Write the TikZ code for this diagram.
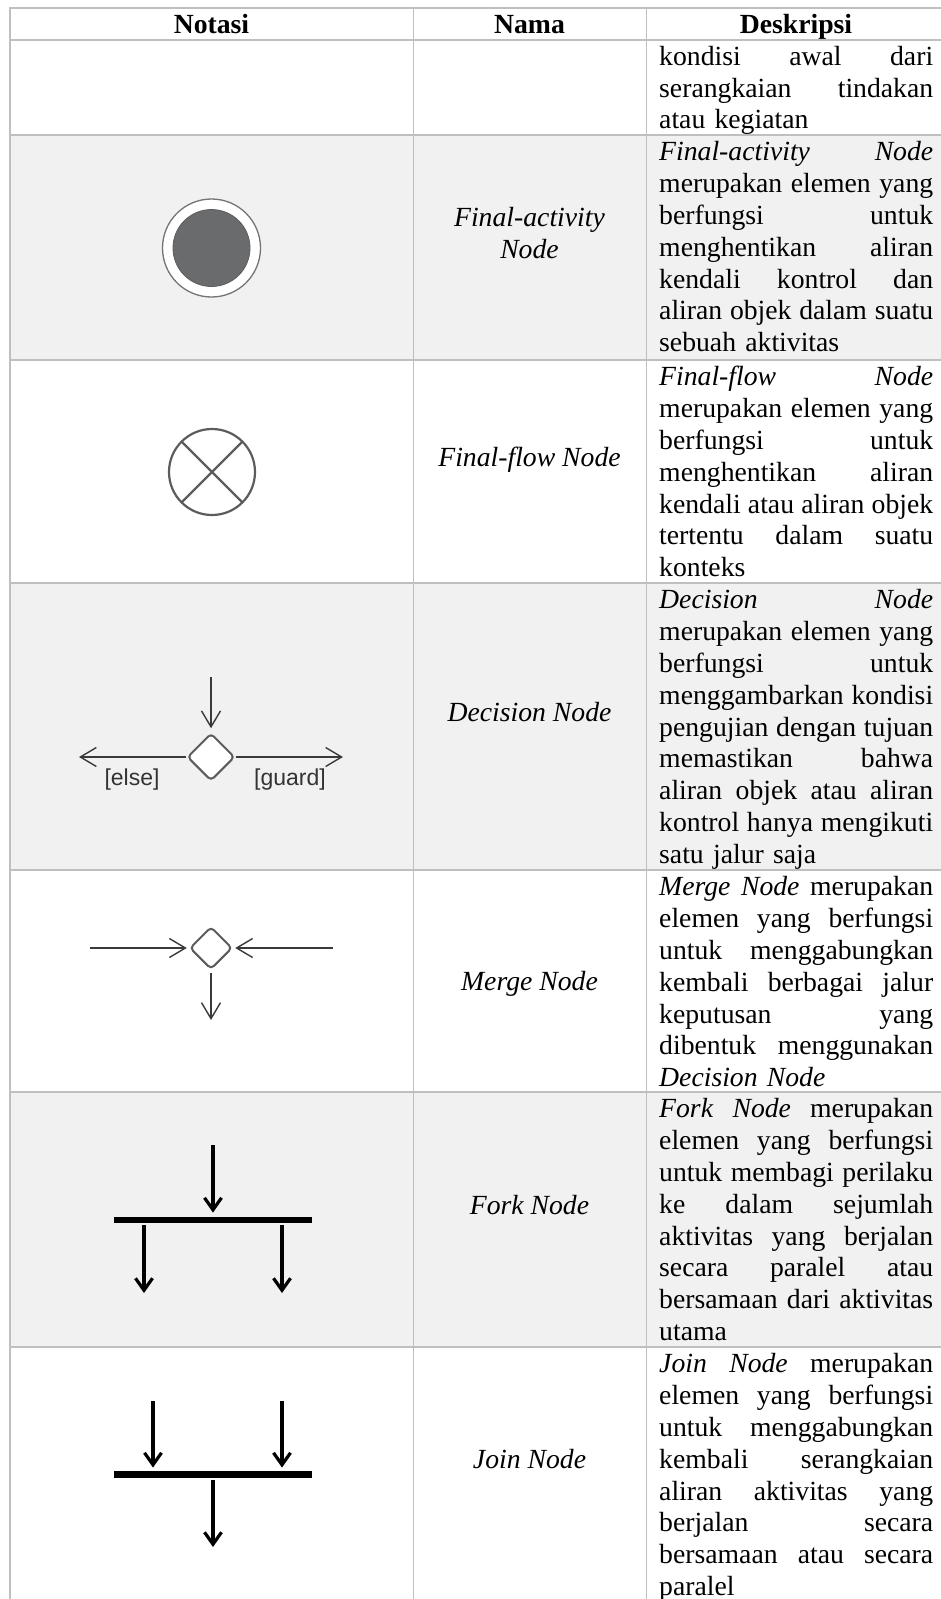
\documentclass[tikz,border=0pt]{standalone}
\usepackage{fontspec}
\setmainfont{Liberation Serif}
\newfontfamily\labelsans{Liberation Sans}
\usetikzlibrary{shapes.geometric,arrows.meta}

\definecolor{gridline}{HTML}{BFBFBF}
\definecolor{rowshade}{HTML}{F1F1F1}
\definecolor{flowline}{HTML}{3A3A3A}
\definecolor{shapeedge}{HTML}{5C5C5C}
\definecolor{corefill}{HTML}{6A6B6D}
\definecolor{labelgray}{HTML}{333333}

% strut giving every first line the same top-to-baseline distance
\newcommand{\ts}{\rule{0pt}{25.5pt}}
% width of the description column text
\newlength{\desccol}
\setlength{\desccol}{274pt}
% a justified line of the description column
\newcommand{\jl}[1]{\leavevmode\hbox to \desccol{\spaceskip=0.25em plus 1fil minus 0.06em\relax #1}}

\tikzset{
  body/.style={font=\fontsize{27.7}{31.85}\selectfont},
  hrule/.style={draw=gridline, line width=2pt},
  vrule/.style={draw=gridline, line width=1pt},
  headcell/.style={font=\fontsize{27.7}{31.85}\selectfont\bfseries, anchor=north, inner sep=0pt},
  desccell/.style={body, anchor=north west, text width=\desccol, align=left, inner sep=0pt},
  namecell/.style={body, anchor=north, align=center, inner sep=0pt},
  guardlabel/.style={font=\labelsans\fontsize{23}{27}\selectfont, text=labelgray, anchor=base, inner sep=0pt},
  branch/.style={diamond, draw=shapeedge, line width=2pt, fill=white, rounded corners=4pt, inner sep=0pt},
  thinflow/.style={draw=flowline, line width=1.4pt, -{Straight Barb[length=16pt, width=19pt]}},
  thickflow/.style={draw=black, line width=3.2pt, -{Straight Barb[length=12pt, width=17pt]}},
  syncbar/.style={rectangle, fill=black, draw=none, minimum width=198pt, minimum height=6.5pt, inner sep=0pt},
}

\begin{document}
\begin{tikzpicture}[x=1pt, y=-1pt]
\useasboundingbox (0,0) rectangle (941,1599);
\fill[white] (0,0) rectangle (941,1599);

% alternating row shading
\fill[rowshade] (10,135) rectangle (946,360);
\fill[rowshade] (10,583) rectangle (946,870);
\fill[rowshade] (10,1092) rectangle (946,1347);

% table grid
\foreach \yy in {7.6,39.5,135,360,583,870,1092,1347}
  \draw[hrule] (9,\yy) -- (946,\yy);
\draw[draw=gridline, line width=2pt] (10,6.6) -- (10,1605);
\draw[vrule] (413,7.6) -- (413,1605);
\draw[vrule] (646,7.6) -- (646,1605);

% header
\node[headcell] (hNotasi) at (211.5,7.6) {\ts Notasi};
\node[headcell] (hNama) at (529.5,7.6) {\ts Nama};
\node[headcell] (hDesk) at (796,7.6) {\ts Deskripsi};

% ---- descriptions ----
\node[desccell] (dInitial) at (659,39.5) {\jl{\ts kondisi awal dari}\\
\jl{serangkaian tindakan}\\
atau kegiatan};

\node[desccell] (dFinalAct) at (659,135) {\jl{\ts\textit{Final-activity} \textit{Node}}\\
\jl{merupakan elemen yang}\\
\jl{berfungsi untuk}\\
\jl{menghentikan aliran}\\
\jl{kendali kontrol dan}\\
\jl{aliran objek dalam suatu}\\
sebuah aktivitas};

\node[desccell] (dFinalFlow) at (659,360) {\jl{\ts\textit{Final-flow} \textit{Node}}\\
\jl{merupakan elemen yang}\\
\jl{berfungsi untuk}\\
\jl{menghentikan aliran}\\
\jl{kendali atau aliran objek}\\
\jl{tertentu dalam suatu}\\
konteks};

\node[desccell] (dDecision) at (659,583) {\jl{\ts\textit{Decision} \textit{Node}}\\
\jl{merupakan elemen yang}\\
\jl{berfungsi untuk}\\
\jl{menggambarkan kondisi}\\
\jl{pengujian dengan tujuan}\\
\jl{memastikan bahwa}\\
\jl{aliran objek atau aliran}\\
\jl{kontrol hanya mengikuti}\\
satu jalur saja};

\node[desccell] (dMerge) at (659,870) {\jl{\ts\textit{Merge} \textit{Node} merupakan}\\
\jl{elemen yang berfungsi}\\
\jl{untuk menggabungkan}\\
\jl{kembali berbagai jalur}\\
\jl{keputusan yang}\\
\jl{dibentuk menggunakan}\\
\textit{Decision Node}};

\node[desccell] (dFork) at (659,1092) {\jl{\ts\textit{Fork} \textit{Node} merupakan}\\
\jl{elemen yang berfungsi}\\
\jl{untuk membagi perilaku}\\
\jl{ke dalam sejumlah}\\
\jl{aktivitas yang berjalan}\\
\jl{secara paralel atau}\\
\jl{bersamaan dari aktivitas}\\
utama};

\node[desccell] (dJoin) at (659,1347) {\jl{\ts\textit{Join} \textit{Node} merupakan}\\
\jl{elemen yang berfungsi}\\
\jl{untuk menggabungkan}\\
\jl{kembali serangkaian}\\
\jl{aliran aktivitas yang}\\
\jl{berjalan secara}\\
\jl{bersamaan atau secara}\\
paralel};

% ---- names ----
\node[namecell] (nFinalAct) at (529.5,200.6) {\ts\textit{Final-activity}\\\textit{Node}};
\node[namecell] (nFinalFlow) at (529.5,440.6) {\ts\textit{Final-flow Node}};
\node[namecell] (nDecision) at (529.5,695.6) {\ts\textit{Decision Node}};
\node[namecell] (nMerge) at (529.5,965.1) {\ts\textit{Merge Node}};
\node[namecell] (nFork) at (529.5,1188.6) {\ts\textit{Fork Node}};
\node[namecell] (nJoin) at (529.5,1443.1) {\ts\textit{Join Node}};

% ---- final-activity node ----
\node[circle, draw=shapeedge!85, line width=1.3pt, fill=white, minimum size=98pt, inner sep=0pt] (finalAct) at (211.5,248) {};
\node[circle, draw=shapeedge, line width=0.8pt, fill=corefill, minimum size=77pt, inner sep=0pt] (finalCore) at (finalAct.center) {};

% ---- final-flow node ----
\node[circle, draw=shapeedge, line width=2.2pt, minimum size=86pt, inner sep=0pt, outer sep=0pt] (finalFlow) at (212,472) {};
\draw[draw=shapeedge, line width=2.2pt] (finalFlow.45) -- (finalFlow.225);
\draw[draw=shapeedge, line width=2.2pt] (finalFlow.135) -- (finalFlow.315);

% ---- decision node ----
\node[branch, minimum size=47.5pt] (decision) at (211,757) {};
\coordinate (decIn) at (211,677);
\coordinate (decElse) at (79,757);
\coordinate (decGuard) at (343,757);
\draw[thinflow, shorten >=4pt] (decIn) -- (decision.north);
\draw[thinflow] (decision.west) -- (decElse);
\draw[thinflow] (decision.east) -- (decGuard);
\node[guardlabel] (lblElse) at (132,785) {[else]};
\node[guardlabel] (lblGuard) at (290,785) {[guard]};

% ---- merge node ----
\node[branch, minimum size=42.5pt] (merge) at (211,948) {};
\coordinate (mrgLeft) at (90,948);
\coordinate (mrgRight) at (333,948);
\coordinate (mrgOut) at (211,1020);
\draw[thinflow, shorten >=2pt] (mrgLeft) -- (merge.west);
\draw[thinflow, shorten >=2pt] (mrgRight) -- (merge.east);
\draw[thinflow, shorten <=3pt] (merge.south) -- (mrgOut);

% ---- fork node ----
\node[syncbar] (fork) at (213,1220) {};
\coordinate (forkIn) at (213,1145);
\coordinate (forkLeft) at (144,1293);
\coordinate (forkRight) at (282,1293);
\draw[thickflow, shorten >=4pt] (forkIn) -- (fork.north);
\draw[thickflow, shorten <=2pt] (fork.south -| forkLeft) -- (forkLeft);
\draw[thickflow, shorten <=2pt] (fork.south -| forkRight) -- (forkRight);

% ---- join node ----
\node[syncbar] (join) at (213,1474.5) {};
\coordinate (joinLeft) at (153,1401);
\coordinate (joinRight) at (282,1401);
\coordinate (joinOut) at (213,1547);
\draw[thickflow, shorten >=3.5pt] (joinLeft) -- (joinLeft |- join.north);
\draw[thickflow, shorten >=3.5pt] (joinRight) -- (joinRight |- join.north);
\draw[thickflow, shorten <=2pt] (join.south) -- (joinOut);
\end{tikzpicture}
\end{document}
